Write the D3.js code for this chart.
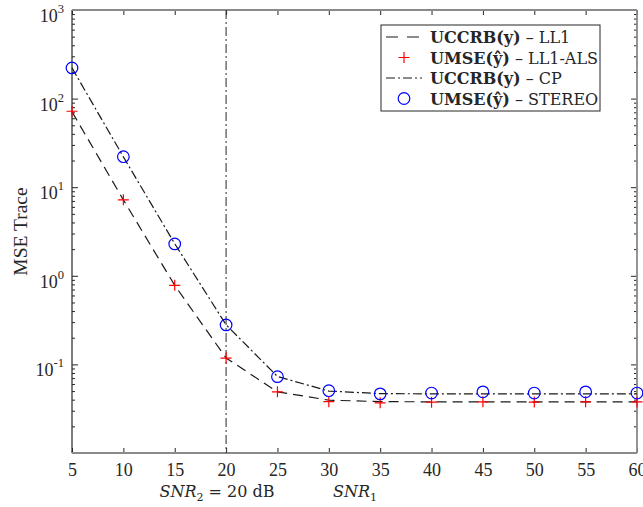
<!DOCTYPE html>
<html><head><meta charset="utf-8">
<script src="https://cdn.jsdelivr.net/npm/d3@7"></script>
<style>
html,body{margin:0;padding:0;background:#fff;}
text{font-family:"Liberation Serif","Times New Roman",serif;fill:#262626;}
text.cm{font-family:"DejaVu Serif",serif;}
</style></head>
<body><svg id="c" width="643" height="507"></svg>
<script>
const snr1 = [5,10,15,20,25,30,35,40,45,50,55,60];
const crbLL1 = [71, 7.2, 0.78, 0.118, 0.049, 0.0395, 0.038, 0.0378, 0.0378, 0.0378, 0.0378, 0.0378];
const umseLL1ALS = [72, 7.2, 0.78, 0.118, 0.049, 0.038, 0.0368, 0.0375, 0.0378, 0.0376, 0.0378, 0.0377];
const crbCP = [222, 22, 2.3, 0.28, 0.073, 0.05, 0.0468, 0.0465, 0.0465, 0.0465, 0.0465, 0.0465];
const umseSTEREO = [222, 22.1, 2.29, 0.279, 0.0727, 0.0505, 0.0465, 0.0475, 0.049, 0.0475, 0.049, 0.0475];
const xTicks = [5,10,15,20,25,30,35,40,45,50,55,60];
const yDecades = [-1,0,1,2,3];
const snr2 = 20;

const svg = d3.select("#c");
const L=72,R=637,T=10,B=453;
const x = d3.scaleLinear().domain([5,60]).range([L,R]);
const y = d3.scaleLog().domain([0.01,1000]).range([B,T]);

const minor=[];
for(let e=-2;e<3;e++) for(let k=2;k<=9;k++) minor.push(k*Math.pow(10,e));
const major = yDecades.map(e=>Math.pow(10,e));

// axes
const gL = svg.append("g").attr("transform",`translate(${L},0)`);
gL.call(d3.axisLeft(y).tickValues(major).tickSize(-6).tickSizeOuter(0).tickFormat(""));
gL.append("g").call(d3.axisLeft(y).tickValues(minor).tickSize(-3).tickSizeOuter(0).tickFormat(""));
const gR = svg.append("g").attr("transform",`translate(${R},0)`);
gR.call(d3.axisRight(y).tickValues(major).tickSize(-6).tickSizeOuter(0).tickFormat(""));
gR.append("g").call(d3.axisRight(y).tickValues(minor).tickSize(-3).tickSizeOuter(0).tickFormat(""));
const gB = svg.append("g").attr("transform",`translate(0,${B})`);
gB.call(d3.axisBottom(x).tickValues(xTicks).tickSize(-5).tickSizeOuter(0).tickPadding(10).tickFormat(d3.format("d")));
const gT = svg.append("g").attr("transform",`translate(0,${T})`);
gT.call(d3.axisTop(x).tickValues(xTicks).tickSize(-5).tickSizeOuter(0).tickFormat(""));
svg.selectAll(".domain").remove();
svg.selectAll(".tick line").attr("stroke","#262626").attr("stroke-width",1);
gB.selectAll(".tick text").attr("font-size",18).attr("fill","#262626").attr("font-family","Liberation Serif");

// frame
svg.append("line").attr("x1",L).attr("x2",L).attr("y1",T).attr("y2",B).attr("stroke","#262626").attr("stroke-width",1.2);
svg.append("line").attr("x1",L).attr("x2",R).attr("y1",B).attr("y2",B).attr("stroke","#8a8a8a").attr("stroke-width",1.8);
svg.append("line").attr("x1",L).attr("x2",R).attr("y1",T).attr("y2",T).attr("stroke","#8a8a8a").attr("stroke-width",1.8);
svg.append("line").attr("x1",R).attr("x2",R).attr("y1",T).attr("y2",B).attr("stroke","#8a8a8a").attr("stroke-width",1.8);

// y tick labels
yDecades.forEach(e=>{
  const t = svg.append("text").attr("x",64).attr("y",y(Math.pow(10,e))+12).attr("text-anchor","end").attr("font-size",18);
  t.append("tspan").text("10");
  t.append("tspan").attr("font-size",12.5).attr("dy",-9).text(String(e));
});

// y label
svg.append("text").attr("transform",`translate(27,${(T+B)/2}) rotate(-90)`).attr("text-anchor","middle").attr("font-size",19.5).text("MSE Trace");

// x labels
const t1 = svg.append("text").attr("class","cm").attr("x",217).attr("y",497).attr("text-anchor","middle").attr("font-size",16);
t1.append("tspan").attr("font-style","italic").text("SNR");
t1.append("tspan").attr("font-size",11).attr("dy",4).text("2");
t1.append("tspan").attr("dy",-4).text(" = 20 dB");
const t2 = svg.append("text").attr("class","cm").attr("x",355).attr("y",497).attr("text-anchor","middle").attr("font-size",16);
t2.append("tspan").attr("font-style","italic").text("SNR");
t2.append("tspan").attr("font-size",11).attr("dy",4).text("1");

// vertical line
svg.append("line").attr("x1",x(snr2)).attr("x2",x(snr2)).attr("y1",T).attr("y2",B)
  .attr("stroke","#262626").attr("stroke-width",1).attr("stroke-dasharray","9,3,2,3");

const line = d3.line().x((d,i)=>x(snr1[i])).y(d=>y(d));
const dashLL1 = "10,6";
const dashCP = "9,3,2,3";
svg.append("path").attr("d",line(crbLL1)).attr("fill","none").attr("stroke","#1a1a1a").attr("stroke-width",1.2).attr("stroke-dasharray",dashLL1);
svg.append("path").attr("d",line(crbCP)).attr("fill","none").attr("stroke","#1a1a1a").attr("stroke-width",1.2).attr("stroke-dasharray",dashCP);

function plus(g,cx,cy){
  g.append("path").attr("d",`M${cx-5.5},${cy}H${cx+5.5}M${cx},${cy-5.5}V${cy+5.5}`).attr("stroke","#ff0000").attr("stroke-width",1.2).attr("fill","none");
}
function circ(g,cx,cy){
  g.append("circle").attr("cx",cx).attr("cy",cy).attr("r",5.8).attr("fill","none").attr("stroke","#0000ff").attr("stroke-width",1.2);
}
const gm = svg.append("g");
umseLL1ALS.forEach((v,i)=>plus(gm,x(snr1[i]),y(v)));
umseSTEREO.forEach((v,i)=>circ(gm,x(snr1[i]),y(v)));

// legend
const lg = svg.append("g");
lg.append("rect").attr("x",381).attr("y",25).attr("width",219).attr("height",86).attr("fill","#fff").attr("stroke","#262626").attr("stroke-width",1);
const rows = [
  {b:"UCCRB(y)", r:" – LL1", type:"dash"},
  {b:"UMSE(ŷ)", r:" – LL1-ALS", type:"plus"},
  {b:"UCCRB(y)", r:" – CP", type:"dashdot"},
  {b:"UMSE(ŷ)", r:" – STEREO", type:"circ"}
];
rows.forEach((d,i)=>{
  const cy = 37 + i*20.5;
  if(d.type==="dash") lg.append("line").attr("x1",386).attr("x2",420).attr("y1",cy).attr("y2",cy).attr("stroke","#1a1a1a").attr("stroke-width",1.2).attr("stroke-dasharray","12,9");
  if(d.type==="dashdot") lg.append("line").attr("x1",386).attr("x2",422).attr("y1",cy).attr("y2",cy).attr("stroke","#1a1a1a").attr("stroke-width",1.2).attr("stroke-dasharray","9,3,2,3");
  if(d.type==="plus") plus(lg,404,cy);
  if(d.type==="circ") circ(lg,404,cy);
  const t = lg.append("text").attr("class","cm").attr("x",430).attr("y",cy+6).attr("font-size",16);
  t.append("tspan").attr("font-weight","bold").text(d.b);
  t.append("tspan").text(d.r);
});
</script></body></html>
